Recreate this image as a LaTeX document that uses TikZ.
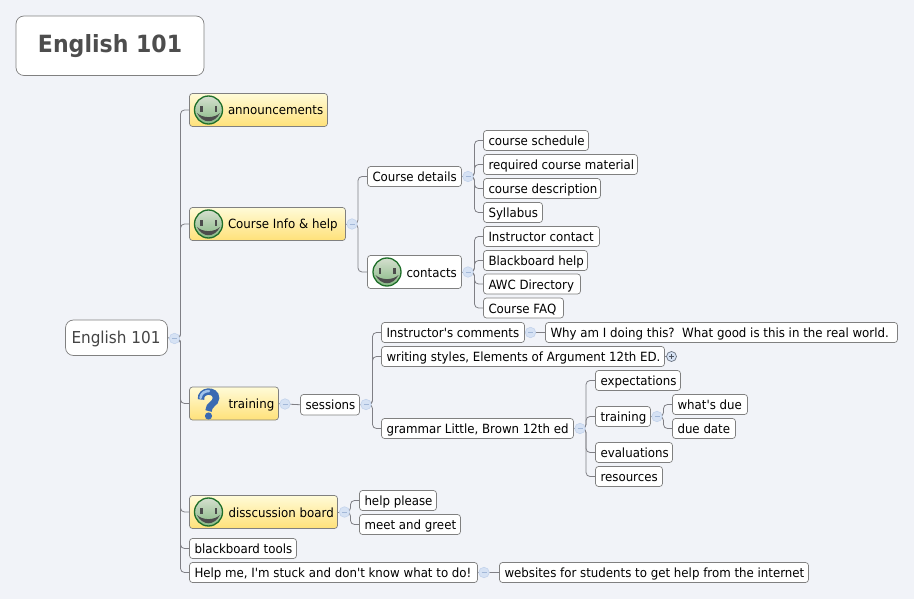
\documentclass[tikz,border=0pt]{standalone}
\usepackage{fontspec}
\setmainfont{DejaVu Sans}[FakeStretch=0.93,Ligatures=TeXOff]
\usetikzlibrary{backgrounds,calc}
\definecolor{bgc}{HTML}{F1F3F8}
\definecolor{edgec}{HTML}{808080}
\definecolor{conc}{HTML}{7F7F85}
\definecolor{titlec}{HTML}{4D4D4D}
\definecolor{yeltop}{HTML}{FFFBD8}
\definecolor{yelbot}{HTML}{FFE179}
\definecolor{tognf}{HTML}{D6E2F4}
\definecolor{tognd}{HTML}{C3D3EC}
\definecolor{togm}{HTML}{A3B8D8}
\definecolor{grn}{HTML}{1F6F2A}
\definecolor{facet}{HTML}{D5DFCF}
\definecolor{faceb}{HTML}{86B883}
\definecolor{qblue}{HTML}{3A6AB2}
\definecolor{qlight}{HTML}{A0C3EB}
\tikzset{
  basebox/.style={draw=edgec,line width=0.7pt,rounded corners=3pt,fill=white,inner sep=0pt,outer sep=0pt,
    text height=11pt,text depth=1pt,font=\fontsize{12.7}{14}\selectfont,text=black},
  plain/.style={basebox},
  yellow/.style={basebox,top color=yeltop,bottom color=yelbot},
  central/.style={basebox,rounded corners=8pt,font=\fontsize{16.4}{18}\selectfont,text=titlec!90!black,text height=13pt,text depth=1pt},
  titlebox/.style={basebox,rounded corners=8pt,font=\fontsize{23.7}{28}\bfseries\selectfont,text=titlec,text height=19pt,text depth=5pt},
  tog/.style={circle,draw=tognd,fill=tognf,line width=0.6pt,minimum size=10.5pt,inner sep=0pt,outer sep=0pt},
  togp/.style={circle,draw=black!45!tognd,fill=tognf,line width=0.7pt,minimum size=10pt,inner sep=0pt,outer sep=0pt},
  conn/.style={draw=conc,line width=0.8pt,rounded corners=4pt},
  smiley/.pic={
    \shade[top color=facet,bottom color=faceb,draw=grn,line width=1.3pt] (0,0) circle (14);
    \fill[black!70] (-8.5,-4) rectangle (-6,2);
    \fill[black!70] (6,-4) rectangle (8.5,2);
    \fill[black!70] (-11.5,3) .. controls (-6,14) and (6,14) .. (11.5,3) .. controls (6,8.5) and (-6,8.5) .. cycle;
  }
}
% name, x1, y1, x2, y2, style, left padding, text
\newcommand{\bx}[8]{%
  \pgfmathsetmacro{\mycx}{(#2+#4)/2}\pgfmathsetmacro{\mycy}{(#3+#5)/2}%
  \pgfmathsetlengthmacro{\myw}{(#4-#2)*1pt}\pgfmathsetlengthmacro{\myh}{(#5-#3)*1pt}%
  \pgfmathsetlengthmacro{\myt}{(#4-#2-#7)*1pt}%
  \node[#6,minimum width=\myw,minimum height=\myh] (#1) at (\mycx,\mycy)
    {\hspace*{#7pt}\makebox[\myt][l]{#8}};%
}
\newcommand{\tg}[3]{%
  \node[tog] (#1) at (#2,#3) {};
  \draw[togm,line width=0.7pt] ($(#1)+(-2.5,0)$) -- ($(#1)+(2.5,0)$);
}
\newcommand{\spine}[3]{% toggle, x, child list
  \foreach \ch in {#3}{\draw[conn] (#1.center) -- (#2,0 |- #1.center) |- (\ch.west);}
}
\begin{document}
\begin{tikzpicture}[x=1pt,y=-1pt]
\useasboundingbox (0,0) rectangle (914,599);

\bx{title}{16}{16}{204}{75.5}{titlebox}{22}{English 101}
\bx{root}{65.5}{320}{167.5}{355.5}{central}{6}{English 101}

\bx{ann}{189.5}{93.5}{327.5}{126.5}{yellow}{38.5}{announcements}
\bx{info}{189.5}{207.5}{345.5}{240.5}{yellow}{38.5}{Course Info \& help}
\bx{train}{189.5}{387}{278.5}{420}{yellow}{39}{training}
\bx{disc}{189.5}{495.5}{337.5}{528.5}{yellow}{39}{disscussion board}
\bx{tools}{189.5}{538.5}{296.5}{558.5}{plain}{5}{blackboard tools}
\bx{stuck}{189.5}{562.5}{477.5}{582.5}{plain}{5}{Help me, I'm stuck and don't know what to do!}

\bx{details}{367.5}{166.5}{461.5}{186.5}{plain}{5}{Course details}
\bx{contacts}{367.5}{255.5}{461.5}{288.5}{plain}{39}{contacts}
\bx{sched}{483.5}{130.5}{588.5}{150.5}{plain}{5}{course schedule}
\bx{req}{483.5}{154.5}{637.5}{174.5}{plain}{5}{required course material}
\bx{desc}{483.5}{178.5}{600.5}{198.5}{plain}{5}{course description}
\bx{syl}{483.5}{202.5}{542.5}{222.5}{plain}{5}{Syllabus}
\bx{instr}{483.5}{226.5}{599.5}{246.5}{plain}{5}{Instructor contact}
\bx{bbh}{483.5}{250.5}{587.5}{270.5}{plain}{5}{Blackboard help}
\bx{awc}{483.5}{274}{580.5}{294}{plain}{5}{AWC Directory}
\bx{faq}{483.5}{298}{563.5}{318}{plain}{5}{Course FAQ}

\bx{sess}{300.5}{394.5}{359.5}{415}{plain}{5}{sessions}
\bx{comm}{381.5}{322.5}{524.5}{342.5}{plain}{5}{Instructor's comments}
\bx{why}{545.5}{322.5}{897.5}{342.5}{plain}{5}{Why am I doing this?\ \ What good is this in the real world.}
\bx{writ}{381.5}{346.5}{664.5}{366.5}{plain}{5}{writing styles, Elements of Argument 12th ED.}
\bx{gram}{381.5}{418.5}{573.5}{438.5}{plain}{5}{grammar Little, Brown 12th ed}
\bx{expe}{595.5}{370.5}{680.5}{390.5}{plain}{5}{expectations}
\bx{trn}{595.5}{406.5}{650.5}{426.5}{plain}{5}{training}
\bx{whatd}{672.5}{394.5}{747.5}{414.5}{plain}{5}{what's due}
\bx{dued}{672.5}{418.5}{735.5}{438.5}{plain}{5}{due date}
\bx{eval}{595.5}{442.5}{672.5}{462.5}{plain}{5}{evaluations}
\bx{res}{595.5}{466.5}{662.5}{486.5}{plain}{5}{resources}
\bx{help}{359.5}{490.5}{436.5}{510.5}{plain}{5}{help please}
\bx{meet}{359.5}{514.5}{460.5}{534.5}{plain}{5}{meet and greet}
\bx{web}{499.5}{562.5}{808.5}{582.5}{plain}{5}{websites for students to get help from the internet}

\tg{troot}{174.5}{338.5}
\tg{tinfo}{352}{224}
\tg{tdet}{468}{176.5}
\tg{tcon}{468}{272}
\tg{ttrain}{285}{404}
\tg{tsess}{366}{404.5}
\tg{tcomm}{530.5}{332.5}
\tg{tgram}{580}{428.5}
\tg{ttrn}{657}{416.5}
\tg{tdisc}{344.5}{512}
\tg{tstuck}{484}{572.5}
\node[togp] (twrit) at (671.5,356.5) {};
\draw[black!60!tognd,line width=0.7pt] ($(twrit)+(-2.5,0)$) -- ($(twrit)+(2.5,0)$) ($(twrit)+(0,-2.5)$) -- ($(twrit)+(0,2.5)$);

\begin{scope}[on background layer]
\fill[bgc] (0,0) rectangle (914,599);
\draw[conn] (root.east) -- (troot.center);
\draw[conn] (info.east) -- (tinfo.center);
\draw[conn] (details.east) -- (tdet.center);
\draw[conn] (contacts.east) -- (tcon.center);
\draw[conn] (train.east) -- (ttrain.center) -- (sess.west);
\draw[conn] (sess.east) -- (tsess.center);
\draw[conn] (comm.east) -- (tcomm.center) -- (why.west);
\draw[conn] (writ.east) -- (twrit.center);
\draw[conn] (gram.east) -- (tgram.center);
\draw[conn] (trn.east) -- (ttrn.center);
\draw[conn] (disc.east) -- (tdisc.center);
\draw[conn] (stuck.east) -- (tstuck.center) -- (web.west);
\spine{troot}{180.5}{ann,info,train,disc,tools,stuck}
\spine{tinfo}{358}{details,contacts}
\spine{tdet}{474.5}{sched,req,desc,syl}
\spine{tcon}{474.5}{instr,bbh,awc,faq}
\spine{tsess}{372.5}{comm,writ,gram}
\spine{tgram}{586}{expe,trn,eval,res}
\spine{ttrn}{663.5}{whatd,dued}
\spine{tdisc}{350.5}{help,meet}
\end{scope}

\pic at (208.5,110) {smiley};
\pic at (208.5,224) {smiley};
\pic at (208.5,512) {smiley};
\pic at (387,272) {smiley};

% question mark icon
\draw[line width=6.5pt,draw=qblue] (201,399.5) .. controls (200,389.5) and (216,389) .. (216,398) .. controls (216,404) and (208.5,404) .. (208.5,411);
\draw[line width=2.5pt,draw=qlight,line cap=round] (200.5,398) .. controls (201,393) and (205,391) .. (209,391);
\fill[qblue] (208.5,416) circle (3.6);
\end{tikzpicture}
\end{document}
